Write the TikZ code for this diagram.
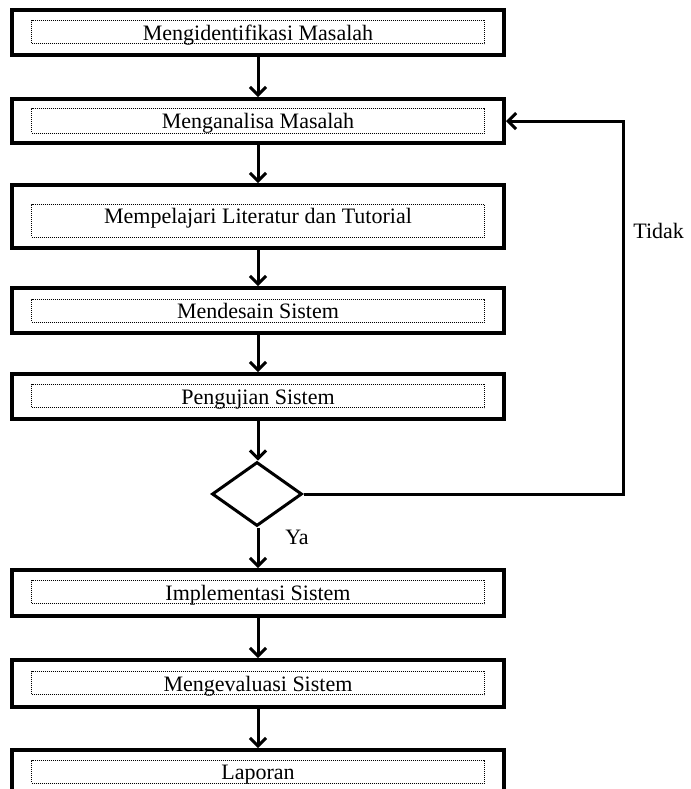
\documentclass[tikz,border=0pt]{standalone}
\usepackage{fontspec}
\setmainfont{Liberation Serif}
\usetikzlibrary{arrows.meta}
\usetikzlibrary{shapes.geometric}

\tikzset{
    kotak/.style={draw=black, line width=2pt, minimum width=246pt, inner sep=0pt},
    isian/.style={draw=black, line width=0.5pt, dash pattern=on 0.5pt off 0.5pt, minimum width=226.5pt, minimum height=11.5pt, inner sep=0pt, text height=8pt, text depth=0pt, font=\fontsize{11}{13}\selectfont},
    panah/.style={line width=1.5pt, -{Straight Barb[length=4pt,width=8pt]}},
    label/.style={inner sep=0pt, font=\fontsize{11}{13}\selectfont}
}

\begin{document}
\begin{tikzpicture}[x=0.5pt, y=-0.5pt]
                \clip (0,0) rectangle (691,789);

                \node[kotak, minimum height=22.5pt] (identifikasi) at (258,32.5) {};
                \node[isian] (identifikasi-t) at (258,32) {Mengidentifikasi Masalah};
                \node[kotak, minimum height=22pt] (analisa) at (258,121) {};
                \node[isian, minimum height=12.5pt] (analisa-t) at (258,120.5) {Menganalisa Masalah};
                \node[kotak, minimum height=31.5pt] (literatur) at (258,216.5) {};
                \node[isian, minimum height=16.5pt, text depth=5.5pt] (literatur-t) at (258,220.5) {Mempelajari Literatur dan Tutorial};
                \node[kotak, minimum height=22.5pt] (desain) at (258,310.5) {};
                \node[isian] (desain-t) at (258,310.5) {Mendesain Sistem};
                \node[kotak, minimum height=22.5pt] (uji) at (258,396.5) {};
                \node[isian] (uji-t) at (258,396) {Pengujian Sistem};
                \node[draw=black, line width=1.5pt, diamond, minimum width=45pt, minimum height=32pt, inner sep=0pt] (keputusan) at (257,494) {};
                \node[kotak, minimum height=23pt] (implementasi) at (258,593) {};
                \node[isian] (implementasi-t) at (258,592) {Implementasi Sistem};
                \node[kotak, minimum height=23.5pt] (evaluasi) at (258,683.5) {};
                \node[isian] (evaluasi-t) at (258,683) {Mengevaluasi Sistem};
                \node[kotak, minimum height=25pt] (laporan) at (258,775) {};
                \node[isian] (laporan-t) at (258,771.5) {Laporan};

                \node[label] (ya) at (297,537) {Ya};
                \node[label, anchor=west] (tidak) at (633,231) {Tidak};
                \coordinate (belok) at (623,494);

                \draw[panah] (identifikasi) -- (analisa);
                \draw[panah] (analisa) -- (literatur);
                \draw[panah] (literatur) -- (desain);
                \draw[panah] (desain) -- (uji);
                \draw[panah] (uji) -- (uji |- keputusan.north);
                \draw[panah] (keputusan.south -| implementasi) -- (implementasi);
                \draw[panah] (implementasi) -- (evaluasi);
                \draw[panah] (evaluasi) -- (laporan);
                \draw[panah] (keputusan.east) -- (belok) |- (analisa.east);
            \end{tikzpicture}
\end{document}
